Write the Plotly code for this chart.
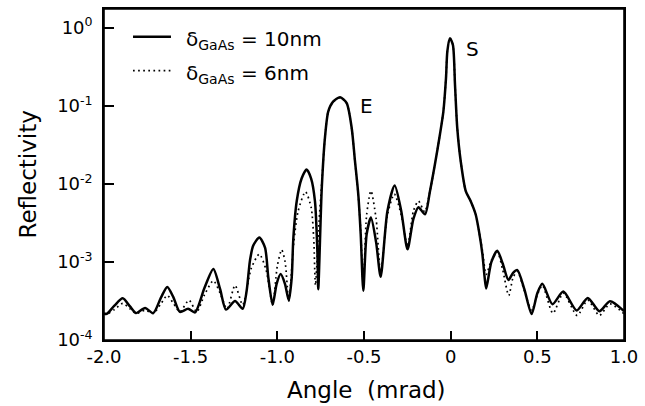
import plotly.graph_objects as go

# Angle (mrad) and reflectivity, delta_GaAs = 10 nm (solid)
x_10nm = [-2.000, -1.985, -1.94, -1.892, -1.85, -1.815, -1.763, -1.716, -1.67, -1.635,
          -1.60, -1.562, -1.515, -1.475, -1.42, -1.369, -1.33, -1.296, -1.244, -1.20,
          -1.177, -1.158, -1.139, -1.104, -1.071, -1.052, -1.027, -1.004, -0.981, -0.956,
          -0.934, -0.917, -0.908, -0.888, -0.86, -0.831, -0.805, -0.783, -0.769, -0.764,
          -0.744, -0.725, -0.706, -0.677, -0.638, -0.60, -0.571, -0.552, -0.533, -0.519,
          -0.504, -0.485, -0.46, -0.43, -0.404, -0.365, -0.323, -0.285, -0.249, -0.215,
          -0.186, -0.148, -0.12, -0.091, -0.062, -0.042, -0.027, -0.019, -0.004, 0.013,
          0.025, 0.038, 0.058, 0.087, 0.115, 0.144, 0.163, 0.183, 0.196, 0.205,
          0.235, 0.269, 0.30, 0.333, 0.360, 0.385, 0.425, 0.467, 0.50, 0.529,
          0.587, 0.65, 0.727, 0.791, 0.858, 0.919, 1.0]
r_10nm = [2.19e-4, 2.16e-4, 2.75e-4, 3.42e-4, 2.69e-4, 2.21e-4, 2.57e-4, 2.21e-4, 3.55e-4, 4.79e-4,
          3.55e-4, 2.29e-4, 2.51e-4, 2.26e-4, 4.68e-4, 8.13e-4, 4.47e-4, 2.45e-4, 3.16e-4, 2.51e-4,
          4.27e-4, 1.04e-3, 1.62e-3, 2.06e-3, 1.53e-3, 6.31e-4, 2.82e-4, 5.25e-4, 7.0e-4, 5.25e-4,
          3.2e-4, 6.31e-4, 1.95e-3, 6.03e-3, 1.17e-2, 1.53e-2, 1.17e-2, 6.03e-3, 1.38e-3, 4.47e-4,
          8.51e-3, 3.98e-2, 8.51e-2, 0.114, 0.129, 0.108, 5.2e-2, 1.95e-2, 7.35e-3, 2.26e-3,
          4.27e-4, 2.24e-3, 3.70e-3, 1.78e-3, 6.46e-4, 4.47e-3, 9.55e-3, 4.47e-3, 1.45e-3, 3.55e-3,
          5.01e-3, 4.07e-3, 7.94e-3, 1.77e-2, 4.28e-2, 8.49e-2, 0.226, 0.501, 0.731, 0.601,
          0.186, 5.2e-2, 1.95e-2, 8.09e-3, 6.04e-3, 4.08e-3, 2.5e-3, 1.26e-3, 6.34e-4, 4.57e-4,
          1.0e-3, 1.39e-3, 9.55e-4, 5.87e-4, 7.24e-4, 7.85e-4, 4.47e-4, 2.15e-4, 3.98e-4, 5.25e-4,
          2.88e-4, 4.17e-4, 2.39e-4, 3.46e-4, 2.34e-4, 3.13e-4, 2.34e-4]

# delta_GaAs = 6 nm (dotted)
x_6nm = [-2.000, -1.985, -1.94, -1.892, -1.85, -1.815, -1.763, -1.716, -1.67, -1.635,
         -1.60, -1.562, -1.51, -1.465, -1.42, -1.369, -1.33, -1.29, -1.244, -1.20,
         -1.15, -1.104, -1.065, -1.027, -1.00, -0.975, -0.955, -0.934, -0.905, -0.88,
         -0.838, -0.805, -0.79, -0.78, -0.76, -0.744, -0.725, -0.706, -0.677, -0.638,
         -0.60, -0.571, -0.552, -0.533, -0.519, -0.504, -0.485, -0.46, -0.43, -0.404,
         -0.365, -0.325, -0.285, -0.249, -0.215, -0.186, -0.15, -0.12, -0.091, -0.062,
         -0.042, -0.027, -0.019, -0.004, 0.013, 0.025, 0.038, 0.058, 0.087, 0.115,
         0.144, 0.163, 0.183, 0.205, 0.235, 0.269, 0.30, 0.335, 0.36, 0.385,
         0.425, 0.467, 0.50, 0.529, 0.59, 0.65, 0.73, 0.791, 0.858, 0.919, 1.0]
r_6nm = [2.14e-4, 2.14e-4, 2.45e-4, 2.95e-4, 2.51e-4, 2.19e-4, 2.40e-4, 2.19e-4, 2.95e-4, 3.72e-4,
         2.95e-4, 2.29e-4, 3.24e-4, 2.29e-4, 3.80e-4, 5.75e-4, 3.98e-4, 2.51e-4, 5.01e-4, 2.82e-4,
         8.32e-4, 1.26e-3, 7.94e-4, 2.82e-4, 8.91e-4, 1.43e-3, 1.0e-3, 3.16e-4, 1.78e-3, 4.47e-3,
         7.94e-3, 5.01e-3, 2.0e-3, 5.01e-4, 3.16e-3, 1.0e-2, 3.98e-2, 8.51e-2, 0.112, 0.127,
         0.107, 5.13e-2, 1.91e-2, 7.08e-3, 2.51e-3, 5.01e-4, 3.98e-3, 8.13e-3, 3.55e-3, 7.08e-4,
         3.98e-3, 7.41e-3, 3.98e-3, 1.58e-3, 4.47e-3, 6.03e-3, 4.37e-3, 7.94e-3, 1.77e-2, 4.28e-2,
         8.49e-2, 0.226, 0.501, 0.731, 0.601, 0.186, 5.2e-2, 1.95e-2, 8.09e-3, 6.04e-3,
         4.08e-3, 2.5e-3, 1.41e-3, 6.92e-4, 1.05e-3, 1.35e-3, 7.94e-4, 3.72e-4, 6.31e-4, 7.59e-4,
         4.27e-4, 2.40e-4, 3.80e-4, 5.01e-4, 2.20e-4, 3.98e-4, 2.06e-4, 3.24e-4, 2.06e-4, 2.90e-4, 2.16e-4]

x_tickvals = [-2.0, -1.5, -1.0, -0.5, 0, 0.5, 1.0]
x_ticktext = ["-2.0", "-1.5", "-1.0", "-0.5", "0", "0.5", "1.0"]
y_tickvals = [1e-4, 1e-3, 1e-2, 1e-1, 1e0]
y_ticktext = ["10<sup>-4</sup>", "10<sup>-3</sup>", "10<sup>-2</sup>", "10<sup>-1</sup>", "10<sup>0</sup>"]

legend_labels = ["δ<sub>GaAs</sub> = 10nm", "δ<sub>GaAs</sub> = 6nm"]
peak_labels = ["E", "S"]

FONT = "DejaVu Sans"

fig = go.Figure()
fig.add_trace(go.Scatter(x=x_6nm, y=r_6nm, mode="lines",
                         line=dict(color="black", width=1.7, dash="1.7px,3.4px", shape="spline", smoothing=0.7),
                         showlegend=False))
fig.add_trace(go.Scatter(x=x_10nm, y=r_10nm, mode="lines",
                         line=dict(color="black", width=2.5, shape="spline", smoothing=0.7),
                         showlegend=False))

# plot frame
fig.add_shape(type="rect", xref="paper", yref="paper", x0=0, x1=1, y0=0, y1=1,
              line=dict(color="black", width=1.6), layer="above")

# legend drawn manually
fig.add_shape(type="line", xref="paper", yref="paper", x0=0.0558, x1=0.1288, y0=0.916, y1=0.916,
              line=dict(color="black", width=2.5))
fig.add_shape(type="line", xref="paper", yref="paper", x0=0.0558, x1=0.1288, y0=0.814, y1=0.814,
              line=dict(color="black", width=1.7, dash="1.7px,3.4px"))
fig.add_annotation(xref="paper", yref="paper", x=0.1538, y=0.905, xanchor="left", yanchor="middle",
                   text=legend_labels[0], showarrow=False, font=dict(family=FONT, size=20, color="black"))
fig.add_annotation(xref="paper", yref="paper", x=0.1538, y=0.803, xanchor="left", yanchor="middle",
                   text=legend_labels[1], showarrow=False, font=dict(family=FONT, size=20, color="black"))

# peak labels
fig.add_annotation(xref="paper", yref="paper", x=0.504, y=0.7057, xanchor="center", yanchor="middle",
                   text=peak_labels[0], showarrow=False, font=dict(family=FONT, size=20, color="black"))
fig.add_annotation(xref="paper", yref="paper", x=0.7077, y=0.88, xanchor="center", yanchor="middle",
                   text=peak_labels[1], showarrow=False, font=dict(family=FONT, size=20, color="black"))

# axis titles
fig.add_annotation(xref="paper", yref="paper", x=-0.148, y=0.5, xanchor="center", yanchor="middle",
                   text="Reflectivity", textangle=-90,
                   showarrow=False, font=dict(family=FONT, size=23, color="black"))
fig.add_annotation(xref="paper", yref="paper", x=0.504, y=-0.15, xanchor="center", yanchor="middle",
                   text="Angle&nbsp;&nbsp;(mrad)",
                   showarrow=False, font=dict(family=FONT, size=23, color="black"))

fig.update_layout(
    width=645, height=406,
    margin=dict(l=104, r=21, t=7, b=66),
    paper_bgcolor="white", plot_bgcolor="white",
    font=dict(family=FONT, size=18, color="black"),
)
fig.update_xaxes(range=[-2.0, 1.0], tickvals=x_tickvals, ticktext=x_ticktext,
                 ticks="inside", ticklen=9, tickwidth=1.5, tickcolor="black",
                 showline=True, linecolor="black", linewidth=1.6, mirror=True,
                 showgrid=False, zeroline=False, tickfont=dict(family=FONT, size=18))
fig.update_yaxes(type="log", range=[-4, 0.24], tickvals=y_tickvals, ticktext=y_ticktext,
                 ticks="inside", ticklen=10, tickwidth=1.5, tickcolor="black",
                 showline=True, linecolor="black", linewidth=1.6, mirror=True,
                 showgrid=False, zeroline=False, tickfont=dict(family=FONT, size=18),
                 ticklabelstandoff=6)

fig.write_html("out.html")
